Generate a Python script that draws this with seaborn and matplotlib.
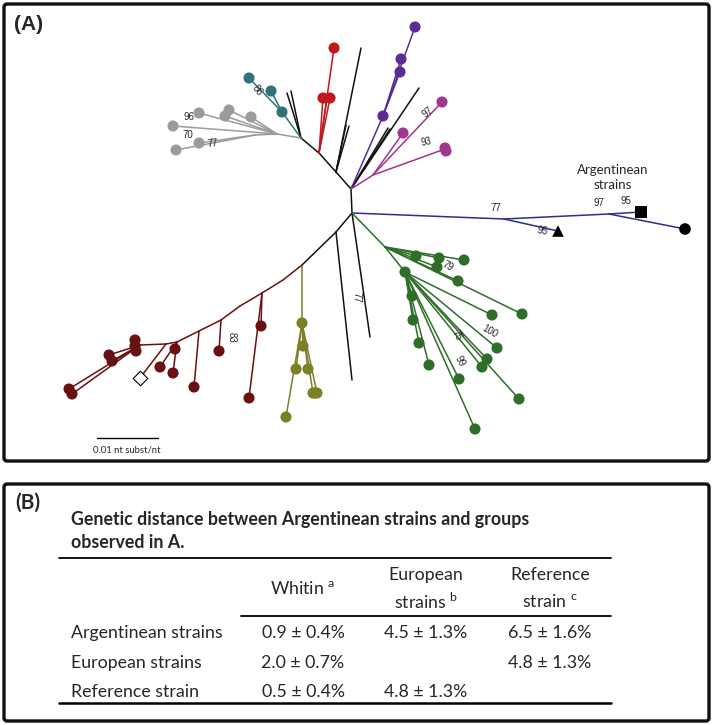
"""Unrooted strain tree (A) and genetic distance table (B)."""

import matplotlib

matplotlib.use("Agg")
import matplotlib.pyplot as plt
import matplotlib.patches as mpatches
import pandas as pd
import seaborn as sns


# ---- panel A: tree, branches per clade as (from node, to node) in layout units ----
black_edges = [
    ((351, 189), (352, 213)), ((351, 189), (336, 172)), ((336, 172), (319, 153)),
    ((319, 153), (301, 138)), ((352, 213), (336, 232)), ((336, 232), (302, 265)),
    ((336, 172), (346, 125)), ((336, 172), (349, 126)), ((336, 172), (361, 48)),
    ((301, 138), (287, 93)), ((301, 138), (291, 91)),
    ((351, 189), (419, 88)), ((351, 189), (388, 128)), ((351, 189), (390, 129)),
    ((352, 213), (370, 337)), ((336, 232), (352, 380)),
]
grey_edges = [
    ((301, 138), (277, 134)), ((277, 134), (199, 113)), ((277, 134), (229, 110)),
    ((277, 134), (225, 116)), ((277, 134), (251, 117)), ((277, 134), (173, 126)),
    ((277, 134), (255, 135)), ((255, 135), (199, 143)), ((255, 135), (176, 150)),
]
teal_edges = [((301, 138), (282, 112)), ((282, 112), (249, 78)), ((282, 112), (271, 91))]
red_edges = [((319, 153), (323, 98)), ((319, 153), (327, 98)), ((319, 153), (330, 98)),
             ((319, 153), (334, 48))]
purple_edges = [((351, 189), (383, 116)), ((383, 116), (415, 27)),
                ((383, 116), (401, 59)), ((383, 116), (400, 72))]
magenta_edges = [((351, 189), (373, 175)), ((373, 175), (442, 102)),
                 ((373, 175), (403, 133)), ((373, 175), (445, 149))]
blue_edges = [((352, 213), (504, 219)), ((504, 219), (609, 214)), ((609, 214), (641, 212)),
              ((609, 214), (685, 229)), ((504, 219), (558, 231))]
green_upper = [(416, 256), (439, 258), (437, 267), (464, 260), (458, 281), (522, 314)]
green_lower = [(412, 296), (413, 320), (419, 343), (429, 365), (459, 379), (475, 429),
               (492, 315), (497, 348), (487, 359), (482, 367), (519, 399)]
green_edges = ([((352, 213), (385, 247)), ((385, 247), (405, 272))]
               + [((385, 247), t) for t in green_upper]
               + [((405, 272), t) for t in green_lower])
olive_tips = [(302, 323), (303, 346), (296, 369), (308, 369), (313, 393), (317, 393), (286, 417)]
olive_edges = [((302, 265), (302, 323))] + [((302, 323), t) for t in olive_tips[1:]]
maroon_spine = [(302, 265), (283, 280), (262, 293), (240, 306), (221, 320),
                (199, 331), (177, 342), (166, 344), (140, 345)]
maroon_edges = (list(zip(maroon_spine[:-1], maroon_spine[1:])) + [
    ((262, 293), (261, 326)), ((262, 293), (249, 398)), ((221, 320), (219, 351)),
    ((199, 331), (194, 387)), ((177, 342), (175, 349)), ((177, 342), (173, 373)),
    ((177, 342), (160, 367)), ((166, 344), (140, 378)), ((140, 345), (135, 340)),
    ((140, 345), (135, 348)), ((140, 345), (109, 355)), ((140, 345), (112, 361)),
    ((140, 345), (69, 389)), ((140, 345), (72, 394)),
])

# tip dots per clade
tips = {
    "grey": [(199, 113), (229, 110), (225, 116), (251, 117), (173, 126), (199, 143), (176, 150)],
    "teal": [(282, 112), (271, 91), (249, 78)],
    "red": [(323, 98), (330, 98), (334, 48)],
    "purple": [(383, 116), (415, 27), (401, 59), (400, 72)],
    "magenta": [(442, 102), (403, 133), (445, 148), (446, 151)],
    "green": [(405, 272)] + green_upper + green_lower,
    "olive": olive_tips + [(315, 393)],
    "maroon": [(261, 326), (249, 398), (219, 351), (194, 387), (175, 349), (173, 373),
               (160, 367), (135, 340), (135, 346), (136, 351), (109, 355), (112, 361),
               (69, 389), (72, 394)],
}
# special strains: Argentinean (black) and reference (open diamond)
special_x = [641, 558, 685, 140]
special_y = [212, 231, 229, 378]
special_kind = ["square", "triangle", "circle", "diamond"]

# bootstrap values
boot_text = ["86", "96", "70", "77", "97", "93", "77", "95", "97", "95",
             "79", "100", "75", "99", "77", "83"]
boot_x = [257, 189, 188, 213, 428, 426, 496, 542, 599, 626, 448, 490, 457, 460, 356, 232]
boot_y = [90, 117, 135, 144, 112, 142, 208, 231, 203, 201, 266, 331, 335, 361, 297, 337]
boot_rot = [-52, 0, 0, 5, 40, 12, 0, -10, 0, 0, -30, -30, -60, -60, -90, -90]

palette = {
    "black": "#111111", "grey": "#9b9b9b", "teal": "#2f7378", "red": "#c1171d",
    "purple": "#5a2d93", "magenta": "#9f3690", "blue": "#2d2d8c", "green": "#2e6e2a",
    "olive": "#7d7f25", "maroon": "#6a1010",
}

# ---- panel B: table ----
table_title = ["Genetic distance between Argentinean strains and groups", "observed in A."]
col_heads = [["Whitin $^{\\mathrm{a}}$"], ["European", "strains $^{\\mathrm{b}}$"],
             ["Reference", "strain $^{\\mathrm{c}}$"]]
row_names = ["Argentinean strains", "European strains", "Reference strain"]
cells = [
    ["0.9 ± 0.4%", "4.5 ± 1.3%", "6.5 ± 1.6%"],
    ["2.0 ± 0.7%", "", "4.8 ± 1.3%"],
    ["0.5 ± 0.4%", "4.8 ± 1.3%", ""],
]

# ---- build tidy frames ----
edge_rows = []
all_edges = {"black": black_edges, "grey": grey_edges, "teal": teal_edges, "red": red_edges,
             "purple": purple_edges, "magenta": magenta_edges, "blue": blue_edges,
             "green": green_edges, "olive": olive_edges, "maroon": maroon_edges}
for clade, segs in all_edges.items():
    for i, (a, b) in enumerate(segs):
        for pt in (a, b):
            edge_rows.append({"clade": clade, "edge": f"{clade}_{i}", "x": pt[0], "y": pt[1]})
edges_df = pd.DataFrame(edge_rows)
tips_df = pd.DataFrame(
    [{"clade": c, "x": p[0], "y": p[1]} for c, pts in tips.items() for p in pts]
)
special_df = pd.DataFrame({"x": special_x, "y": special_y, "kind": special_kind})

sns.set_style("white")
plt.rcParams["mathtext.fontset"] = "custom"
plt.rcParams["mathtext.rm"] = "Lato"

fig = plt.figure(figsize=(7.14, 7.25), dpi=100)
ax = fig.add_axes([0, 0, 1, 1])

sns.lineplot(data=edges_df, x="x", y="y", units="edge", estimator=None, hue="clade",
             palette=palette, sort=False, legend=False, linewidth=1.1, ax=ax)
sns.scatterplot(data=tips_df, x="x", y="y", hue="clade", palette=palette, s=64,
                linewidth=0, legend=False, zorder=3, ax=ax)
black_special = special_df[special_df["kind"] != "diamond"]
sns.scatterplot(data=black_special, x="x", y="y", style="kind",
                markers={"square": "s", "triangle": "^", "circle": "o"},
                color="black", s=70, linewidth=0, legend=False, zorder=3, ax=ax)
sns.scatterplot(data=special_df[special_df["kind"] == "diamond"], x="x", y="y",
                marker="D", color="white", edgecolor="black", linewidth=0.8, s=55,
                legend=False, zorder=3, ax=ax)

for t, x, y, r in zip(boot_text, boot_x, boot_y, boot_rot):
    ax.text(x, y, t, fontsize=7, family="Liberation Sans", rotation=r,
            ha="center", va="center")

ax.text(613, 170, "Argentinean", fontsize=9.5, family="Lato", ha="center", va="center")
ax.text(613, 185, "strains", fontsize=9.5, family="Lato", ha="center", va="center")

# scale bar
ax.plot([97, 158], [438, 438], color="black", lw=1.0)
ax.text(127, 450, "0.01 nt subst/nt", fontsize=6.8, family="Lato", ha="center", va="center")

# panel frames and labels
for y0, h in [(4, 457), (484, 237)]:
    ax.add_patch(mpatches.FancyBboxPatch((4, y0), 705, h,
                                         boxstyle="round,pad=0,rounding_size=3",
                                         fill=False, lw=2.4, ec="#111111"))
ax.text(14, 24, "(A)", fontsize=15, fontweight="bold", family="Liberation Sans",
        ha="left", va="center")
ax.text(15, 503, "(B)", fontsize=15, fontweight="bold", family="Lato",
        ha="left", va="center")

# table
fs = 12.8
ax.text(71, 520, table_title[0], fontsize=fs, fontweight="bold", family="Lato",
        ha="left", va="center")
ax.text(71, 543, table_title[1], fontsize=fs, fontweight="bold", family="Lato",
        ha="left", va="center")
ax.plot([59, 611], [558, 558], color="black", lw=1.3)
ax.plot([241, 611], [616, 616], color="black", lw=1.3)
ax.plot([59, 611], [703, 703], color="black", lw=1.8)

col_x = [303, 426, 550]
for cx, head in zip(col_x, col_heads):
    if len(head) == 1:
        ax.text(cx, 589, head[0], fontsize=fs, family="Lato", ha="center", va="center")
    else:
        ax.text(cx, 575, head[0], fontsize=fs, family="Lato", ha="center", va="center")
        ax.text(cx, 602, head[1], fontsize=fs, family="Lato", ha="center", va="center")

row_y = [633, 663, 692]
for ry, name, vals in zip(row_y, row_names, cells):
    ax.text(71, ry, name, fontsize=fs, family="Lato", ha="left", va="center")
    for cx, v in zip(col_x, vals):
        ax.text(cx, ry, v, fontsize=fs, family="Lato", ha="center", va="center")

ax.set_xlim(0, 714)
ax.set_ylim(725, 0)
ax.axis("off")

fig.savefig("out.png", dpi=100, facecolor="white")
plt.close(fig)
